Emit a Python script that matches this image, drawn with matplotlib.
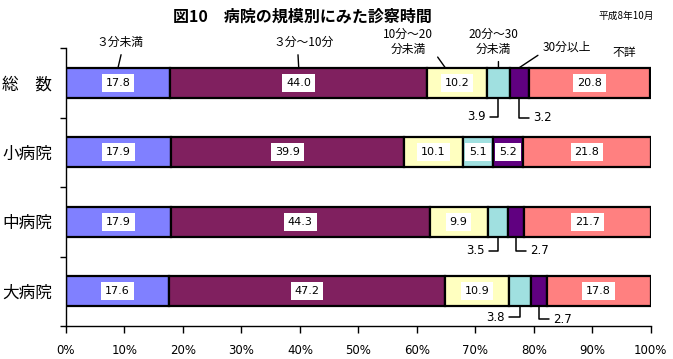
import numpy as np
import matplotlib
matplotlib.use("Agg")
import matplotlib.pyplot as plt

plt.rcParams['font.family'] = ['Noto Sans CJK JP', 'DejaVu Sans']

# 病院の規模別 診察時間の構成割合（％）
categories = ['総　数', '小病院', '中病院', '大病院']
segments = ['３分未満', '３分～10分', '10分～20\n分未満', '20分～30\n分未満', '30分以上', '不詳']
values = np.array([
    [17.8, 44.0, 10.2, 3.9, 3.2, 20.8],
    [17.9, 39.9, 10.1, 5.1, 5.2, 21.8],
    [17.9, 44.3, 9.9, 3.5, 2.7, 21.7],
    [17.6, 47.2, 10.9, 3.8, 2.7, 17.8],
])
xticks = np.arange(0, 101, 10)

colors = ['#8080ff', '#80205f', '#ffffc0', '#a0e0e0', '#600080', '#ff8080']

# 枠外に出すラベル: (行, 区分) -> (dx, dy, ha)  単位はピクセル
outside = {
    (0, 3): (-13, -19, 'right'), (0, 4): (14, -20, 'left'),
    (2, 3): (-13, -14, 'right'), (2, 4): (14, -14, 'left'),
    (3, 3): (-15, -11, 'right'), (3, 4): (14, -13, 'left'),
}

fig = plt.figure(figsize=(6.73, 3.59), dpi=100)
ax = fig.add_axes([0.098, 0.092, 0.869, 0.774])

y = np.arange(len(categories))
h = 0.435
left = np.zeros(len(categories))
for j in range(len(segments)):
    ax.barh(y, values[:, j], left=left, height=h, color=colors[j],
            edgecolor='black', linewidth=1.6, zorder=2)
    for i in range(len(categories)):
        cx = left[i] + values[i, j] / 2
        if (i, j) in outside:
            dx, dy, ha = outside[(i, j)]
            ax.annotate(f'{values[i, j]:.1f}', xy=(cx, y[i] + h / 2),
                        xytext=(dx, dy), textcoords='offset pixels',
                        ha=ha, va='center', fontsize=8.5, family='DejaVu Sans',
                        arrowprops=dict(arrowstyle='-', lw=1.1, color='black',
                                        shrinkA=1, shrinkB=0,
                                        connectionstyle='angle,angleA=0,angleB=90,rad=0'))
        else:
            ax.text(cx, y[i], f'{values[i, j]:.1f}', ha='center', va='center',
                    fontsize=8, family='DejaVu Sans', zorder=3,
                    bbox=dict(boxstyle='square,pad=0.35', fc='white', ec='none'))
    left += values[:, j]

# 区分名（総数の上）
top = y[0] - h / 2
starts = np.concatenate([[0], np.cumsum(values[0])[:-1]])
label_pos = [  # (区分内の位置, dx, dy, relpos)
    (0.5, 2, 25, (0.55, 0)),
    (0.5, 5, 25, (0.4, 0)),
    (0.3, -37, 26, (0.95, 0.3)),
    (0.5, -5, 26, (0.6, 0)),
    (0.5, 48, 21, (0, 0.1)),
    (0.5, 35, 15, None),
]
for j, (frac, dx, dy, rp) in enumerate(label_pos):
    px = starts[j] + values[0, j] * frac
    kw = {}
    if rp is not None:
        kw['arrowprops'] = dict(arrowstyle='-', lw=1, color='black', relpos=rp,
                                shrinkA=2, shrinkB=0)
    ax.annotate(segments[j], xy=(px, top), xytext=(dx, dy),
                textcoords='offset pixels', ha='center', va='center',
                fontsize=8.5, linespacing=1.25, annotation_clip=False, **kw)

ax.set_xlim(0, 100)
ax.set_ylim(len(categories) - 0.5, -0.5)
ax.set_xticks(xticks)
ax.set_xticklabels([f'{t}%' for t in xticks], fontsize=8.5, family='DejaVu Sans')
ax.tick_params(axis='x', length=5, width=1, pad=8)
ax.set_yticks(np.arange(-0.5, len(categories)), [''] * (len(categories) + 1))
ax.tick_params(axis='y', length=4, width=1)
ax.set_yticks(y, categories, minor=True, fontsize=12)
ax.tick_params(axis='y', which='minor', length=0, pad=10)
for s in ['top', 'right']:
    ax.spines[s].set_visible(False)
ax.spines['left'].set_linewidth(1)
ax.spines['bottom'].set_linewidth(1)

fig.text(0.45, 0.955, '図10　病院の規模別にみた診察時間', ha='center', va='center',
         fontsize=11.5, fontweight='bold')
fig.text(0.972, 0.955, '平成8年10月', ha='right', va='center', fontsize=7)

fig.savefig('out.png', dpi=100)
